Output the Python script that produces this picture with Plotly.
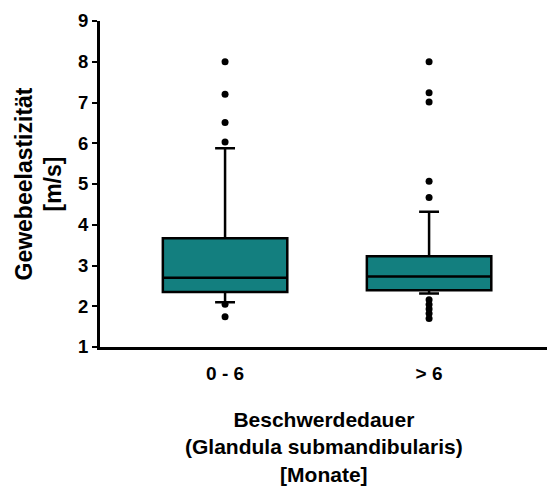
import plotly.graph_objects as go

categories = ["0 - 6", "> 6"]
cat_pos = [0, 1]
q1 = [2.35, 2.39]
median = [2.70, 2.73]
q3 = [3.67, 3.23]
lower_whisker = [2.10, 2.31]
upper_whisker = [5.88, 4.32]
outliers_0_6 = [8.00, 7.20, 6.51, 6.03, 2.05, 1.74]
outliers_gt6 = [8.00, 7.24, 7.01, 5.07, 4.67, 2.16, 2.04, 1.93, 1.82, 1.70]
y_ticks = [1, 2, 3, 4, 5, 6, 7, 8, 9]
x_title = "Beschwerdedauer<br>(Glandula submandibularis)<br>[Monate]"
y_title = "Gewebeelastizität<br>[m/s]"

TEAL = "#137f7f"
FONT = "Liberation Sans, Arial, sans-serif"

fig = go.Figure()
for i in range(len(categories)):
    fig.add_trace(go.Box(
        x=[cat_pos[i]], q1=[q1[i]], median=[median[i]], q3=[q3[i]],
        lowerfence=[lower_whisker[i]], upperfence=[upper_whisker[i]],
        boxpoints=False, width=0.61, whiskerwidth=0.16,
        fillcolor=TEAL, line=dict(color="black", width=2.5),
        showlegend=False, hoverinfo="skip",
    ))

for i, outs in enumerate([outliers_0_6, outliers_gt6]):
    fig.add_trace(go.Scatter(
        x=[cat_pos[i]] * len(outs), y=outs, mode="markers",
        marker=dict(color="black", size=7), showlegend=False,
    ))

fig.update_layout(
    width=547, height=487,
    margin=dict(l=100, r=0, t=21, b=140, pad=0),
    paper_bgcolor="white", plot_bgcolor="white",
    font=dict(family=FONT, color="black"),
    xaxis=dict(
        range=[-0.613, 1.578], tickvals=cat_pos, ticktext=categories,
        showline=True, linecolor="black", linewidth=3,
        showgrid=False, zeroline=False, automargin=False,
        ticks="outside", ticklen=7, tickcolor="rgba(0,0,0,0)",
        tickfont=dict(size=19, family=FONT, weight="bold"),
    ),
    yaxis=dict(
        range=[1, 9], tickvals=y_ticks,
        showline=True, linecolor="black", linewidth=3,
        showgrid=False, zeroline=False, ticks="outside", ticklen=5, tickwidth=2,
        tickcolor="black", automargin=False,
        tickfont=dict(size=18.5, family=FONT, weight="bold"),
        title=dict(text=y_title,
                   font=dict(size=23, family=FONT, weight="bold"), standoff=10),
    ),
    annotations=[dict(
        text=x_title, xref="paper", yref="paper", x=0.5, y=-0.308,
        xanchor="center", yanchor="middle", showarrow=False,
        font=dict(size=21, family=FONT, weight="bold", color="black"),
    )],
)

fig.write_html("out.html")
